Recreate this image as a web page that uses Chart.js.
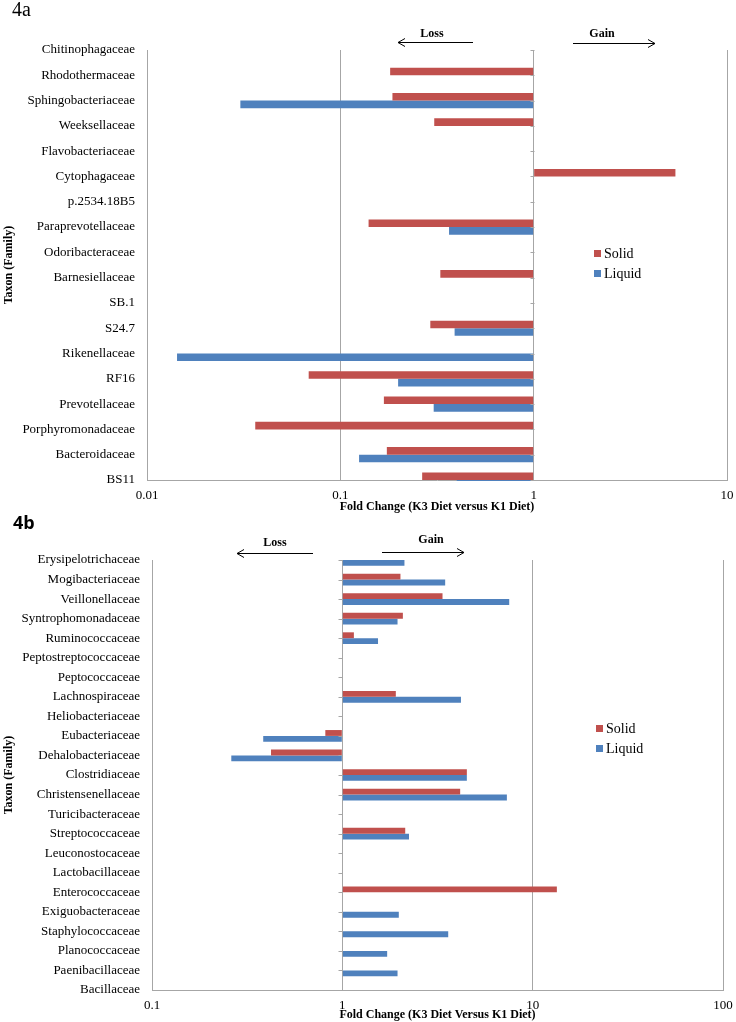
<!DOCTYPE html>
<html>
<head>
<meta charset="utf-8">
<script src="https://cdn.jsdelivr.net/npm/chart.js@4.4.0/dist/chart.umd.min.js"></script>
<style>
  html, body { margin: 0; padding: 0; background: #fff; }
  canvas { display: block; }
</style>
</head>
<body>
<canvas id="chartA" width="736" height="515"></canvas>
<canvas id="chartB" width="736" height="507"></canvas>
<script>
// 4a - Bacteroidetes families (top to bottom)
const familiesA = ['Chitinophagaceae', 'Rhodothermaceae', 'Sphingobacteriaceae', 'Weeksellaceae',
  'Flavobacteriaceae', 'Cytophagaceae', 'p.2534.18B5', 'Paraprevotellaceae', 'Odoribacteraceae',
  'Barnesiellaceae', 'SB.1', 'S24.7', 'Rikenellaceae', 'RF16', 'Prevotellaceae',
  'Porphyromonadaceae', 'Bacteroidaceae', 'BS11'];
const solidA  = [null, 0.181, 0.186, 0.306, null, 5.41, null, 0.140, null, 0.329, null, 0.292, null, 0.0686, 0.168, 0.0363, 0.174, 0.265];
const liquidA = [null, null, 0.0304, null, null, null, null, 0.365, null, null, null, 0.390, 0.0143, 0.199, 0.304, null, 0.125, 0.40];
const ticksA = [0.01, 0.1, 1, 10];

// 4b - Firmicutes families (top to bottom)
const familiesB = ['Erysipelotrichaceae', 'Mogibacteriaceae', 'Veillonellaceae', 'Syntrophomonadaceae',
  'Ruminococcaceae', 'Peptostreptococcaceae', 'Peptococcaceae', 'Lachnospiraceae', 'Heliobacteriaceae',
  'Eubacteriaceae', 'Dehalobacteriaceae', 'Clostridiaceae', 'Christensenellaceae', 'Turicibacteraceae',
  'Streptococcaceae', 'Leuconostocaceae', 'Lactobacillaceae', 'Enterococcaceae', 'Exiguobacteraceae',
  'Staphylococcaceae', 'Planococcaceae', 'Paenibacillaceae', 'Bacillaceae'];
const solidB  = [null, 2.02, 3.36, 2.08, 1.15, null, null, 1.91, null, 0.814, 0.422, 4.51, 4.16, null, 2.14, null, null, 13.4, null, null, null, null, null];
const liquidB = [2.12, 3.47, 7.53, 1.95, 1.54, null, null, 4.20, null, 0.384, 0.261, 4.51, 7.32, null, 2.24, null, null, null, 1.98, 3.60, 1.72, 1.95, null];
const ticksB = [0.1, 1, 10, 100];

const seriesNames = ['Solid', 'Liquid'];

const SERIF = "'Liberation Serif', 'Times New Roman', serif";
const RED = '#c0504d';
const BLUE = '#4f81bd';
const GRID = '#a6a6a6';

// extra drawing: panel label, axis titles, legend, loss/gain arrows, ticks on the x=1 axis
const decoPlugin = {
  id: 'deco',
  afterDraw(chart, args, o) {
    const ctx = chart.ctx;
    const area = chart.chartArea;
    const xs = chart.scales.x, ys = chart.scales.y;
    ctx.save();

    // tick marks on the category axis crossing at 1
    const x1 = Math.round(xs.getPixelForValue(1)) + 0.5;
    ctx.strokeStyle = GRID;
    ctx.lineWidth = 1;
    ctx.beginPath();
    for (let i = 0; i < ys.ticks.length; i++) {
      const y = Math.round(ys.getPixelForTick(i)) + 0.5;
      ctx.moveTo(x1 - 4, y);
      ctx.lineTo(x1, y);
    }
    ctx.stroke();

    ctx.fillStyle = '#000';
    // panel label
    ctx.font = o.panelFont;
    ctx.textAlign = 'left';
    ctx.textBaseline = 'alphabetic';
    ctx.fillText(o.panel, o.panelX, o.panelY);

    // axis titles
    ctx.font = 'bold 12px ' + SERIF;
    ctx.textAlign = 'center';
    ctx.textBaseline = 'middle';
    ctx.fillText(o.xTitle, (area.left + area.right) / 2, o.xTitleY);
    ctx.save();
    ctx.translate(9, (area.top + area.bottom) / 2);
    ctx.rotate(-Math.PI / 2);
    ctx.fillText('Taxon (Family)', 0, 0);
    ctx.restore();

    // loss / gain
    ctx.font = 'bold 12px ' + SERIF;
    ctx.fillText('Loss', o.loss.tx, o.loss.ty);
    ctx.fillText('Gain', o.gain.tx, o.gain.ty);
    ctx.strokeStyle = '#000';
    [o.loss, o.gain].forEach(a => {
      const dir = a.x2 > a.x1 ? 1 : -1;
      ctx.beginPath();
      ctx.moveTo(a.x1, a.y + 0.5);
      ctx.lineTo(a.x2, a.y + 0.5);
      ctx.moveTo(a.x2 - dir * 7, a.y - 3.5);
      ctx.lineTo(a.x2, a.y + 0.5);
      ctx.lineTo(a.x2 - dir * 7, a.y + 4.5);
      ctx.stroke();
    });

    // legend
    ctx.font = '14px ' + SERIF;
    ctx.textAlign = 'left';
    [RED, BLUE].forEach((c, i) => {
      const y = o.legendY + i * 20;
      ctx.fillStyle = c;
      ctx.fillRect(o.legendX, y - 3, 7, 7);
      ctx.fillStyle = '#000';
      ctx.fillText(seriesNames[i], o.legendX + 10, y + 1);
    });
    ctx.restore();
  }
};

function makeChart(id, families, solid, liquid, decades, box, deco) {
  return new Chart(document.getElementById(id), {
    type: 'bar',
    data: {
      labels: families,
      datasets: [
        { label: seriesNames[0], data: solid, backgroundColor: RED, base: 1 },
        { label: seriesNames[1], data: liquid, backgroundColor: BLUE, base: 1 }
      ]
    },
    options: {
      indexAxis: 'y',
      responsive: false,
      animation: false,
      categoryPercentage: 0.6,
      barPercentage: 1.0,
      clip: { left: 0, right: 0, top: 0, bottom: 1 },
      layout: { padding: { top: box.top, right: box.right, left: 0, bottom: 0 } },
      plugins: { legend: { display: false }, tooltip: { enabled: false }, deco: deco },
      scales: {
        x: {
          type: 'logarithmic',
          min: decades[0],
          max: decades[decades.length - 1],
          afterBuildTicks: s => { s.ticks = decades.map(v => ({ value: v })); },
          afterFit: s => {
            s.height = box.xHeight;
            s.paddingLeft = 0;
            s.paddingRight = 0;
          },
          ticks: {
            padding: 8,
            maxRotation: 0,
            color: '#000',
            font: { family: SERIF, size: 13 },
            callback: v => String(v)
          },
          grid: { color: GRID, lineWidth: 1, drawTicks: false },
          border: { color: GRID }
        },
        y: {
          type: 'category',
          offset: false,
          afterFit: s => {
            s.width = box.left;
            s.paddingTop = 0;
            s.paddingBottom = 0;
          },
          ticks: {
            autoSkip: false,
            padding: 12,
            color: '#000',
            font: { family: SERIF, size: 13 }
          },
          grid: { display: false, drawTicks: false },
          border: { display: false }
        }
      }
    },
    plugins: [decoPlugin]
  });
}

makeChart('chartA', familiesA, solidA, liquidA, ticksA,
  { top: 50, right: 9, left: 147, xHeight: 35 },
  {
    panel: '4a', panelFont: '20px ' + SERIF, panelX: 12, panelY: 16,
    xTitle: 'Fold Change (K3 Diet versus K1 Diet)', xTitleY: 507,
    loss: { tx: 432, ty: 34, x1: 473, x2: 398, y: 42 },
    gain: { tx: 602, ty: 34, x1: 573, x2: 655, y: 43 },
    legendX: 594, legendY: 253
  });

makeChart('chartB', familiesB, solidB, liquidB, ticksB,
  { top: 45, right: 13, left: 152, xHeight: 32 },
  {
    panel: '4b', panelFont: 'bold 18px "Open Sans", sans-serif', panelX: 13, panelY: 14,
    xTitle: 'Fold Change (K3 Diet Versus K1 Diet)', xTitleY: 500,
    loss: { tx: 275, ty: 28, x1: 313, x2: 237, y: 38 },
    gain: { tx: 431, ty: 25, x1: 382, x2: 464, y: 37 },
    legendX: 596, legendY: 213
  });
</script>
</body>
</html>
